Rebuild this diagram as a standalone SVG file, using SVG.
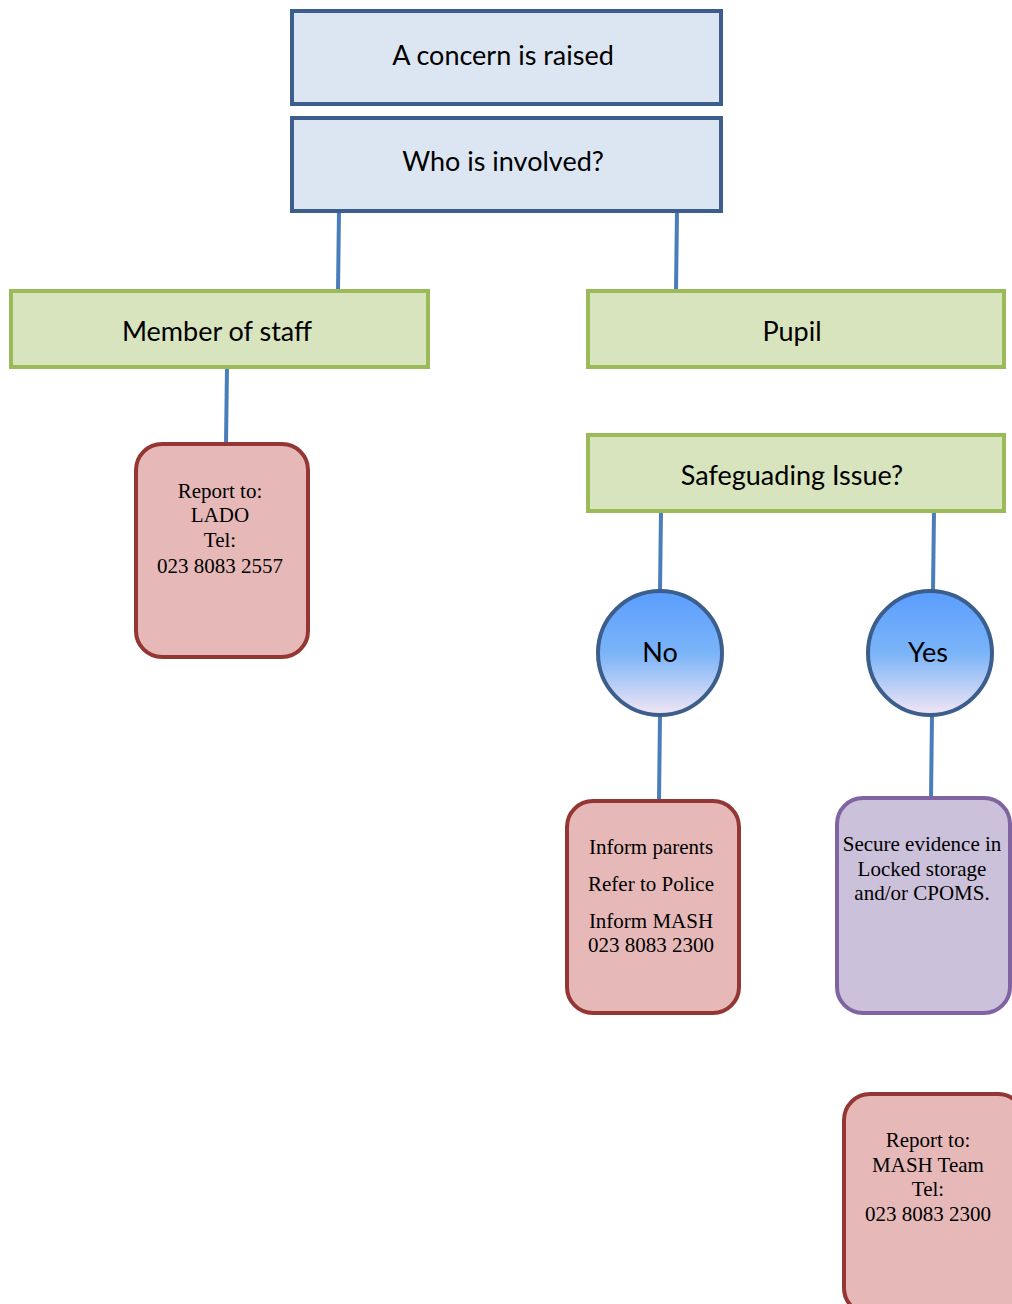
<svg xmlns="http://www.w3.org/2000/svg" width="1012" height="1304" viewBox="0 0 1012 1304">
<defs>
<linearGradient id="g" x1="0" y1="0" x2="0" y2="1">
<stop offset="0" stop-color="#5A9DFF"/>
<stop offset="0.5" stop-color="#7AB4F8"/>
<stop offset="1" stop-color="#F3E6F4"/>
</linearGradient>
<style>
.blue{fill:#DCE6F2;stroke:#3B5E8C;stroke-width:4}
.green{fill:#D7E4BD;stroke:#9BBB59;stroke-width:4}
.red{fill:#E6B9B8;stroke:#943634;stroke-width:4}
.purple{fill:#CCC1DA;stroke:#8064A2;stroke-width:4}
.circ{fill:url(#g);stroke:#3B5E8C;stroke-width:4}
.s{font-family:Lato,"Open Sans",sans-serif;font-size:27px;fill:#000;text-anchor:middle}
.t{font-family:"Liberation Serif","Times New Roman",serif;font-size:21px;fill:#000;text-anchor:middle}
.c{stroke:#4A7EBB;stroke-width:4;fill:none}
</style>
</defs>
<g id="connectors">
<line class="c" x1="339" y1="211" x2="338" y2="291"/>
<line class="c" x1="677" y1="211" x2="676" y2="291"/>
<line class="c" x1="227" y1="367" x2="226" y2="444"/>
<line class="c" x1="661" y1="511" x2="660" y2="591"/>
<line class="c" x1="934" y1="511" x2="933" y2="591"/>
<line class="c" x1="660" y1="716" x2="659" y2="801"/>
<line class="c" x1="932" y1="716" x2="931" y2="798"/>
</g>
<g id="concern">
<rect class="blue" x="292" y="11" width="429" height="93"/>
<text class="s" x="503" y="65">A concern is raised</text>
</g>
<g id="who">
<rect class="blue" x="292" y="118" width="429" height="93"/>
<text class="s" x="503" y="171">Who is involved?</text>
</g>
<g id="staff">
<rect class="green" x="11" y="291" width="417" height="76"/>
<text class="s" x="217" y="341">Member of staff</text>
</g>
<g id="pupil">
<rect class="green" x="588" y="291" width="416" height="76"/>
<text class="s" x="792" y="341">Pupil</text>
</g>
<g id="lado">
<rect class="red" x="136" y="444" width="172" height="213" rx="26"/>
<text class="t" x="220" y="498">Report to:</text>
<text class="t" x="220" y="522">LADO</text>
<text class="t" x="220" y="547">Tel:</text>
<text class="t" x="220" y="573">023 8083 2557</text>
</g>
<g id="safeguarding">
<rect class="green" x="588" y="435" width="416" height="76"/>
<text class="s" x="792" y="485">Safeguading Issue?</text>
</g>
<g id="no">
<circle class="circ" cx="660" cy="653" r="62"/>
<text class="s" x="660" y="662">No</text>
</g>
<g id="yes">
<circle class="circ" cx="930" cy="653" r="62"/>
<text class="s" x="928" y="662">Yes</text>
</g>
<g id="inform">
<rect class="red" x="567" y="801" width="172" height="212" rx="26"/>
<text class="t" x="651" y="854">Inform parents</text>
<text class="t" x="651" y="891">Refer to Police</text>
<text class="t" x="651" y="928">Inform MASH</text>
<text class="t" x="651" y="952">023 8083 2300</text>
</g>
<g id="secure">
<rect class="purple" x="837" y="798" width="173" height="215" rx="26"/>
<text class="t" x="922" y="851">Secure evidence in</text>
<text class="t" x="922" y="876">Locked storage</text>
<text class="t" x="922" y="900">and/or CPOMS.</text>
</g>
<g id="mash">
<rect class="red" x="844" y="1094" width="180" height="220" rx="26"/>
<text class="t" x="928" y="1147">Report to:</text>
<text class="t" x="928" y="1172">MASH Team</text>
<text class="t" x="928" y="1196">Tel:</text>
<text class="t" x="928" y="1221">023 8083 2300</text>
</g>
</svg>
